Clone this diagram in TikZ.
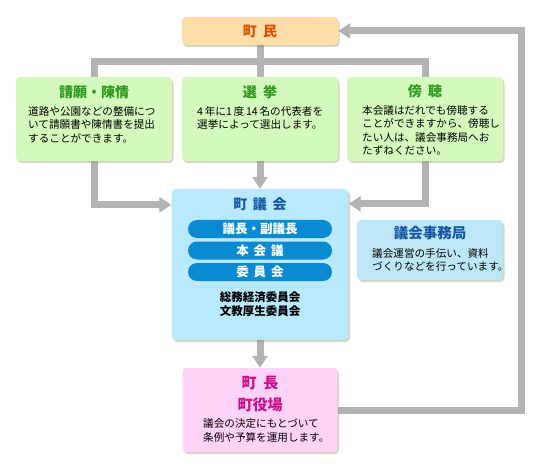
\documentclass[tikz,border=0pt]{standalone}
\usepackage{fontspec}
\setmainfont{Noto Sans CJK JP}
\usetikzlibrary{arrows.meta,shadows}
\pgfdeclarelayer{bg}
\pgfsetlayers{bg,main}
\definecolor{linegray}{HTML}{B3B3B3}
\definecolor{townfill}{HTML}{FFDDA8}
\definecolor{towntext}{HTML}{DD5000}
\definecolor{greenfill}{HTML}{D3F9BC}
\definecolor{greentext}{HTML}{2E9B1E}
\definecolor{bluefill}{HTML}{B8E9FC}
\definecolor{bluetext}{HTML}{1559A6}
\definecolor{pillblue}{HTML}{0A8AD0}
\definecolor{officefill}{HTML}{BDE7F7}
\definecolor{pinkfill}{HTML}{FFD2F8}
\definecolor{pinktext}{HTML}{C8108F}
\definecolor{shadowcol}{HTML}{8A8A60}
\begin{document}
\begin{tikzpicture}[x=1pt,y=-1pt,
  box/.style={rounded corners=4pt, inner sep=0pt, draw=none,
    drop shadow={shadow xshift=1.5pt, shadow yshift=-2pt, opacity=0.35, fill=shadowcol}},
  ttl/.style={font=\fontsize{14}{16}\selectfont\bfseries, inner sep=0pt},
  body/.style={font=\fontsize{10.6}{13.5}\selectfont, align=left, inner sep=0pt, anchor=north west},
  pill/.style={rounded corners=9pt, fill=pillblue, minimum width=144pt, minimum height=18pt,
    inner sep=0pt, text=white, font=\fontsize{12.5}{14}\selectfont\bfseries},
  conn/.style={draw=linegray, line width=7pt},
  arr/.style={conn, -{Triangle[width=15pt,length=12pt]}}
]
\useasboundingbox (0,0) rectangle (540,470);
\begin{pgfonlayer}{bg}
\fill[white] (0,0) rectangle (540,470);
\end{pgfonlayer}

% boxes
\node[box, fill=townfill, minimum width=156pt, minimum height=28pt] (town) at (260,31) {};
\node[box, fill=greenfill, minimum width=156pt, minimum height=84pt] (petition) at (94,119) {};
\node[box, fill=greenfill, minimum width=156pt, minimum height=84pt] (election) at (260,119) {};
\node[box, fill=greenfill, minimum width=156pt, minimum height=84pt] (hearing) at (425,119) {};
\node[box, fill=bluefill, minimum width=177pt, minimum height=151pt] (council) at (260,264.5) {};
\node[box, fill=officefill, minimum width=146pt, minimum height=60pt] (office) at (430,250) {};
\node[box, fill=pinkfill, minimum width=155pt, minimum height=84pt] (mayor) at (260,410) {};

% texts
\node[ttl, text=towntext] (townT) at (260,31) {町\hspace{.45em}民};

\node[ttl, text=greentext] (petitionT) at (94,92) {請願・陳情};
\node[body] (petitionB) at (28,106) {道路や公園などの整備につ\\いて請願書や陳情書を提出\\することができます。};

\node[ttl, text=greentext] (electionT) at (260,92) {選\hspace{.45em}挙};
\node[body] (electionB) at (197,106) {4\,年に1\,度\,14\,名の代表者を\\選挙によって選出します。};

\node[ttl, text=greentext] (hearingT) at (425,91) {傍\hspace{.45em}聴};
\node[body] (hearingB) at (362,105) {本会議はだれでも傍聴する\\ことができますから、傍聴し\\たい人は、議会事務局へお\\たずねください。};

\node[ttl, text=bluetext] (councilT) at (260,204) {町\hspace{.4em}議\hspace{.4em}会};
\node[pill] (p1) at (260,229) {議長・副議長};
\node[pill] (p2) at (260,250.5) {本\hspace{.4em}会\hspace{.4em}議};
\node[pill] (p3) at (260,272) {委\hspace{.4em}員\hspace{.4em}会};
\node[font=\fontsize{11.5}{14}\selectfont\bfseries, align=center, inner sep=0pt] (committees) at (260,304) {総務経済委員会\\文教厚生委員会};

\node[ttl, font=\fontsize{14.5}{16}\selectfont\bfseries, text=bluetext] (officeT) at (430,233) {議会事務局};
\node[body] (officeB) at (372,248) {議会運営の手伝い、資料\\づくりなどを行っています。};

\node[ttl, font=\fontsize{15}{16}\selectfont\bfseries, text=pinktext] (mayorT) at (260,383) {町\hspace{.45em}長};
\node[ttl, font=\fontsize{15}{16}\selectfont\bfseries, text=pinktext] (mayorT2) at (260,405) {町役場};
\node[body, font=\fontsize{10.6}{14}\selectfont] (mayorB) at (203,418) {議会の決定にもとづいて\\条例や予算を運用します。};

% connectors
\coordinate (bar) at (260,62);
\coordinate (loopx) at (521,0);
\begin{pgfonlayer}{bg}
\draw[conn] (town.south) -- (election.north);
\draw[conn] (petition.north) |- (bar) -| (hearing.north);
\draw[arr] (petition.south) |- ([yshift=-16pt]council.north west);
\draw[arr] (hearing.south) |- ([yshift=-15pt]council.north east);
\draw[arr] (election.south) -- (council.north);
\draw[arr] (council.south) -- (mayor.north);
\draw[arr] (mayor.east) -| (loopx |- town.east) -- (town.east);
\end{pgfonlayer}
\end{tikzpicture}
\end{document}
